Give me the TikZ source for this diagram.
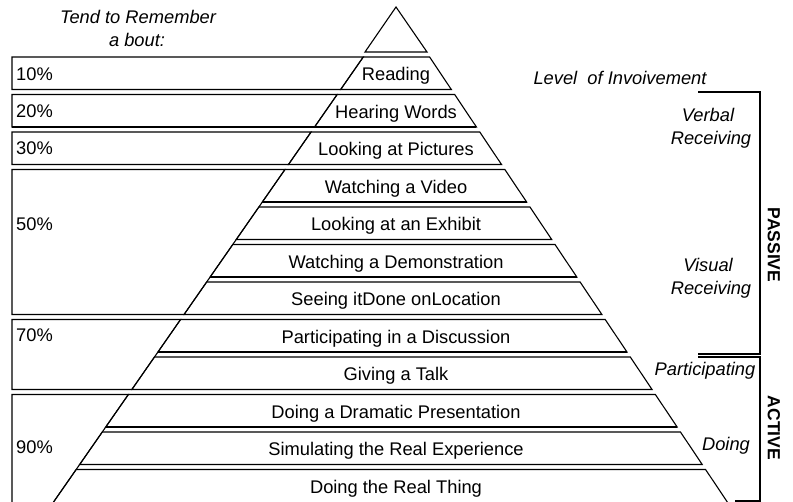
\documentclass[tikz,border=0pt]{standalone}
\usepackage{fontspec}
\setmainfont{Liberation Sans}
\begin{document}
\begin{tikzpicture}[x=1pt,y=-1pt,
  tier/.style={draw=black, line width=1.1pt, line join=miter},
  bottomline/.style={draw=black, line width=1.8pt},
  lbl/.style={font=\fontsize{18.3}{22}\selectfont, inner sep=0pt, anchor=base},
  ital/.style={lbl, font=\fontsize{18.3}{22}\selectfont\itshape},
  side/.style={font=\fontsize{17.5}{21}\selectfont\bfseries, inner sep=0pt, rotate=-90},
  brk/.style={draw=black, line width=1.3pt}]
\useasboundingbox (0,0) rectangle (793,502);
\clip (0,0) rectangle (793,502);

% left boxes
\foreach \a/\b/\p/\ylab [count=\k] in {0/0/10\%/81, 1/1/20\%/118, 2/2/30\%/155, 3/6/50\%/231, 7/8/70\%/342} {
  \pgfmathsetmacro\myT{57+37.5*\a}
  \pgfmathsetmacro\myB{57+37.5*\b+32.5}
  \pgfmathsetmacro\lT{341-0.696*(\myT-89)}
  \pgfmathsetmacro\lB{341-0.696*(\myB-89)}
  \draw[tier] (12,\myT) -- (\lT,\myT) -- (\lB,\myB) -- (12,\myB) -- cycle;
  \draw[bottomline] (12,\myB) -- (\lB,\myB);
  \node[lbl, anchor=base west] (p\k) at (16,\ylab) {\p};
}
\pgfmathsetmacro\myT{57+37.5*9}
\pgfmathsetmacro\lT{341-0.696*(\myT-89)}
\pgfmathsetmacro\lB{341-0.696*(510-89)}
\draw[tier] (12,510) -- (12,\myT) -- (\lT,\myT) -- (\lB,510);
\node[lbl, anchor=base west] (p6) at (16,454) {90\%};

% pyramid top
\draw[tier] (396,7) -- (427,52) -- (365,52) -- cycle;

% tiers
\foreach \i/\t in {0/Reading, 1/Hearing Words, 2/Looking at Pictures, 3/Watching a Video,
  4/Looking at an Exhibit, 5/Watching a Demonstration, 6/Seeing itDone onLocation,
  7/Participating in a Discussion, 8/Giving a Talk, 9/Doing a Dramatic Presentation,
  10/Simulating the Real Experience} {
  \pgfmathsetmacro\myT{57+37.5*\i}
  \pgfmathsetmacro\myB{\myT+32.5}
  \pgfmathsetmacro\lT{341-0.696*(\myT-89)}
  \pgfmathsetmacro\lB{341-0.696*(\myB-89)}
  \pgfmathsetmacro\rT{451+0.669*(\myT-89)}
  \pgfmathsetmacro\rB{451+0.669*(\myB-89)}
  \draw[tier] (\lT,\myT) -- (\rT,\myT) -- (\rB,\myB) -- (\lB,\myB) -- cycle;
  \draw[bottomline] (\lB,\myB) -- (\rB,\myB);
  \node[lbl] (t\i) at (396,\myT+24) {\t};
}
\pgfmathsetmacro\myT{57+37.5*11}
\pgfmathsetmacro\lT{341-0.696*(\myT-89)}
\pgfmathsetmacro\lB{341-0.696*(510-89)}
\pgfmathsetmacro\rT{451+0.669*(\myT-89)}
\pgfmathsetmacro\rB{451+0.669*(510-89)}
\draw[tier] (\lB,510) -- (\lT,\myT) -- (\rT,\myT) -- (\rB,510);
\node[lbl] (t11) at (396,\myT+24) {Doing the Real Thing};

% titles
\node[ital] (tend1) at (138,24) {Tend to Remember};
\node[ital] (tend2) at (137,47) {a bout:};
\node[ital] (level) at (620,85) {Level\ \ of Invoivement};

% right labels
\node[ital] (verb1) at (708,122) {Verbal};
\node[ital] (verb2) at (711,145) {Receiving};
\node[ital] (vis1) at (708,272) {Visual};
\node[ital] (vis2) at (711,295) {Receiving};
\node[ital] (part) at (705,376) {Participating};
\node[ital] (doing) at (726,451) {Doing};

% brackets
\draw[brk] (698,92) -- (760,92) -- (760,354) -- (698,354);
\draw[brk] (698,357) -- (760,357) -- (760,501) -- (735,501);
\node[side] (passive) at (774,245) {PASSIVE};
\node[side] (active) at (774,428) {ACTIVE};
\end{tikzpicture}
\end{document}
